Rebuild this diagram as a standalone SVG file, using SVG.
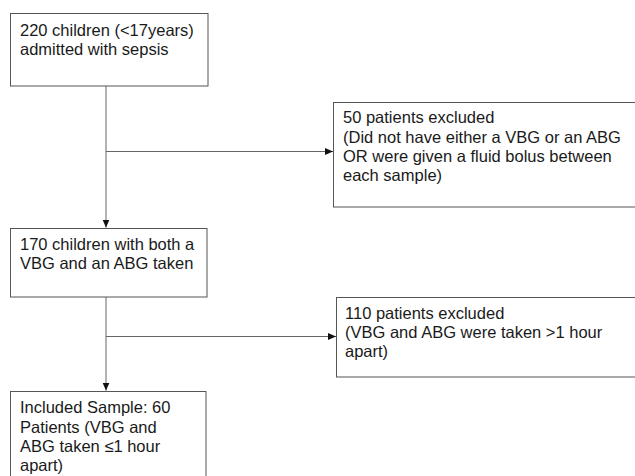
<svg xmlns="http://www.w3.org/2000/svg" width="635" height="476" viewBox="0 0 635 476">
<style>
.box{fill:#fff;stroke:#555;stroke-width:1}
.t{font-family:"Liberation Sans",Arial,sans-serif;font-size:16.5px;fill:#1a1a1a}
.c{fill:none;stroke:#666;stroke-width:1}
</style>
<defs>
<marker id="ah" markerWidth="8" markerHeight="8" refX="8" refY="4" orient="auto" markerUnits="userSpaceOnUse">
<path d="M0,0.5 L8,4 L0,7.5 Z" fill="#111"/>
</marker>
</defs>
<rect width="635" height="476" fill="#fff"/>
<g id="connectors">
<line class="c" x1="106" y1="86" x2="106" y2="227.5" marker-end="url(#ah)"/>
<line class="c" x1="106" y1="151.5" x2="333" y2="151.5" marker-end="url(#ah)"/>
<line class="c" x1="106" y1="297" x2="106" y2="390.5" marker-end="url(#ah)"/>
<line class="c" x1="106" y1="336.5" x2="336" y2="336.5" marker-end="url(#ah)"/>
</g>
<g id="n1">
<rect class="box" x="10.5" y="13.5" width="197.5" height="72.5"/>
<text class="t" x="20" y="36">220 children (&lt;17years)</text>
<text class="t" x="20" y="55">admitted with sepsis</text>
</g>
<g id="n2">
<rect class="box" x="333.5" y="102.5" width="303" height="104.5"/>
<text class="t" x="343" y="123">50 patients excluded</text>
<text class="t" x="343" y="142.5">(Did not have either a VBG or an ABG</text>
<text class="t" x="343" y="162">OR were given a fluid bolus between</text>
<text class="t" x="343" y="181">each sample)</text>
</g>
<g id="n3">
<rect class="box" x="10.5" y="228.5" width="196.5" height="68.5"/>
<text class="t" x="20" y="249.5">170 children with both a</text>
<text class="t" x="20" y="268.5">VBG and an ABG taken</text>
</g>
<g id="n4">
<rect class="box" x="336.5" y="297.5" width="300" height="79.5"/>
<text class="t" x="345" y="319">110 patients excluded</text>
<text class="t" x="345" y="338">(VBG and ABG were taken &gt;1 hour</text>
<text class="t" x="345" y="357">apart)</text>
</g>
<g id="n5">
<rect class="box" x="10.5" y="391.5" width="195.5" height="90"/>
<text class="t" x="20" y="413">Included Sample: 60</text>
<text class="t" x="20" y="432.5">Patients (VBG and</text>
<text class="t" x="20" y="452">ABG taken ≤1 hour</text>
<text class="t" x="20" y="471">apart)</text>
</g>
</svg>
